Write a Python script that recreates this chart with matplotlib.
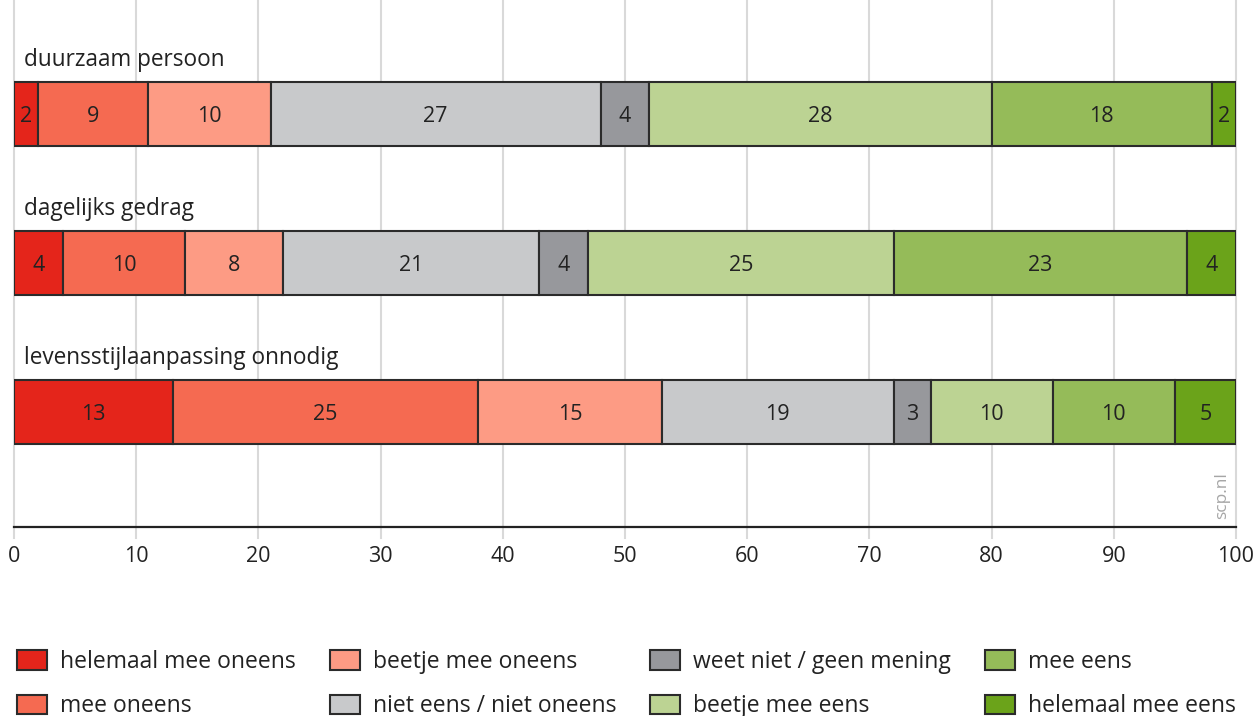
import matplotlib
matplotlib.use("Agg")
import matplotlib.pyplot as plt
from matplotlib.patches import Patch

plt.rcParams['font.family'] = ['Open Sans', 'DejaVu Sans']

categories = ["duurzaam persoon", "dagelijks gedrag", "levensstijlaanpassing onnodig"]
series = ["helemaal mee oneens", "mee oneens", "beetje mee oneens",
          "niet eens / niet oneens", "weet niet / geen mening",
          "beetje mee eens", "mee eens", "helemaal mee eens"]
# segment widths (as drawn) per category
values = [
    [2, 9, 10, 27, 4, 28, 18, 2],
    [4, 10, 8, 21, 4, 25, 24, 4],
    [13, 25, 15, 19, 3, 10, 10, 5],
]
# numbers printed in the segments
labels = [
    [2, 9, 10, 27, 4, 28, 18, 2],
    [4, 10, 8, 21, 4, 25, 23, 4],
    [13, 25, 15, 19, 3, 10, 10, 5],
]
colors = ["#E4251B", "#F56A51", "#FD9B84", "#C8C9CB", "#97989C",
          "#BCD393", "#95BB59", "#6BA31A"]
xticks = [0, 10, 20, 30, 40, 50, 60, 70, 80, 90, 100]

W, H = 1255, 716
fig = plt.figure(figsize=(W / 100, H / 100), dpi=100)
ax = fig.add_axes([14 / W, 189 / H, 1222 / W, 527 / H])

edge = "#2b2b2b"
bar_h = 0.43
for i, (cat, vals, labs) in enumerate(zip(categories, values, labels)):
    left = 0
    for j, (v, lab) in enumerate(zip(vals, labs)):
        ax.barh(i, v, left=left, height=bar_h, color=colors[j],
                edgecolor=edge, linewidth=1.5, zorder=3)
        ax.text(left + v / 2, i + 0.018, str(lab), ha="center", va="center",
                fontsize=15.5, color="#222222", zorder=4)
        left += v
    ax.text(0.8, i - 0.36, cat, ha="left", va="center", fontsize=16.3,
            color="#222222")

ax.set_xlim(0, 100)
ax.set_ylim(2.772, -0.765)
for x in xticks:
    ax.axvline(x, ymin=-0.02, ymax=1, color="#d9d9d9", linewidth=1.5,
               zorder=0, clip_on=False)
for s in ["top", "left", "right"]:
    ax.spines[s].set_visible(False)
ax.spines["bottom"].set_color("#222222")
ax.spines["bottom"].set_linewidth(1.6)
ax.spines["bottom"].set_zorder(5)
ax.set_yticks([])
ax.set_xticks(xticks)
ax.set_xticklabels([str(x) for x in xticks])
ax.tick_params(axis="x", length=0, pad=14, labelsize=15.5, labelcolor="#222222")

ax.text(98.9, 2.564, "scp.nl", rotation=90, ha="center", va="center",
        fontsize=12.5, color="#a6a6a6")

handles = [Patch(facecolor=c, edgecolor=edge, linewidth=1.5) for c in colors]
fs = 16.5
fpx = fs * 100 / 72
fig.legend(handles, series, loc="upper left",
           bbox_to_anchor=(17 / W, (H - 650) / H), ncol=4, frameon=False,
           fontsize=fs, borderpad=0, borderaxespad=0,
           handlelength=30 / fpx, handleheight=21 / fpx,
           handletextpad=13 / fpx, columnspacing=34 / fpx,
           labelspacing=0.88, labelcolor="#222222")

fig.savefig("out.png", dpi=100)
